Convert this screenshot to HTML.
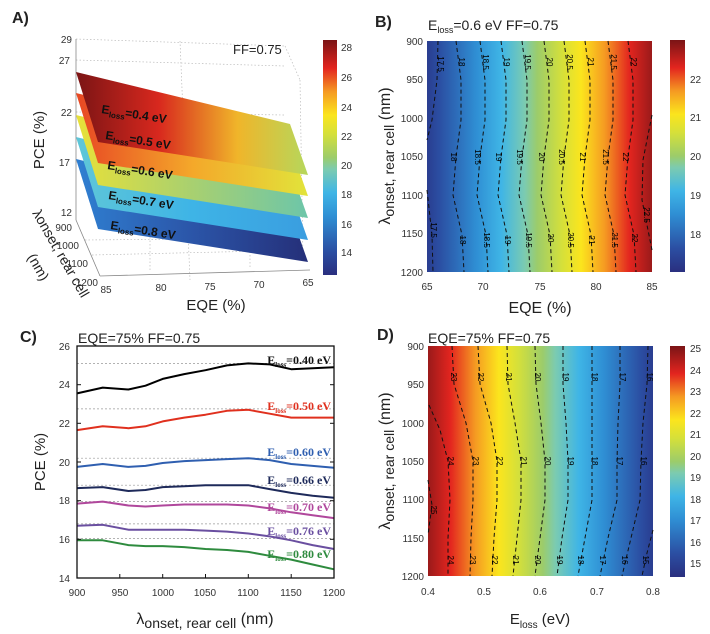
<!DOCTYPE html>
<html><head><meta charset="utf-8"><style>
html,body{margin:0;padding:0;background:#fff;}
svg{display:block;font-family:"Liberation Sans",sans-serif;}
.t{font-size:10px;fill:#333;}
.c{font-size:8px;fill:#000;}
.cl{fill:none;stroke:#111;stroke-width:1;stroke-dasharray:4,3;}
.sl{font-family:"Liberation Serif",serif;font-weight:bold;font-size:12px;}
</style></head><body>
<svg width="710" height="634" viewBox="0 0 710 634" xmlns="http://www.w3.org/2000/svg">
<defs>
<linearGradient id="jetV" x1="0" y1="0" x2="0" y2="1">
<stop offset="0" stop-color="#7a1416"/><stop offset="0.12" stop-color="#e3251f"/><stop offset="0.22" stop-color="#f59a22"/><stop offset="0.32" stop-color="#fbe51d"/><stop offset="0.4" stop-color="#d5e03a"/><stop offset="0.5" stop-color="#9ccc6a"/><stop offset="0.55" stop-color="#7ccbb0"/><stop offset="0.65" stop-color="#3fb5e6"/><stop offset="0.75" stop-color="#2f8fd4"/><stop offset="0.9" stop-color="#2b4ea2"/><stop offset="1" stop-color="#2a2f7f"/>
</linearGradient>
<linearGradient id="gD" x1="0" y1="0" x2="1" y2="0">
<stop offset="0" stop-color="#9a1a1a"/><stop offset="0.1" stop-color="#e3251f"/><stop offset="0.21" stop-color="#f59a22"/><stop offset="0.315" stop-color="#fbe51d"/><stop offset="0.4" stop-color="#d5e03a"/><stop offset="0.51" stop-color="#9ccc6a"/><stop offset="0.565" stop-color="#7ccbb0"/><stop offset="0.67" stop-color="#3fb5e6"/><stop offset="0.78" stop-color="#2f8fd4"/><stop offset="0.946" stop-color="#2b4ea2"/><stop offset="1" stop-color="#2a3d90"/>
</linearGradient>
<linearGradient id="gB" x1="1" y1="0" x2="0" y2="0">
<stop offset="0" stop-color="#9a1a1a"/><stop offset="0.1" stop-color="#e3251f"/><stop offset="0.21" stop-color="#f59a22"/><stop offset="0.315" stop-color="#fbe51d"/><stop offset="0.4" stop-color="#d5e03a"/><stop offset="0.51" stop-color="#9ccc6a"/><stop offset="0.565" stop-color="#7ccbb0"/><stop offset="0.67" stop-color="#3fb5e6"/><stop offset="0.78" stop-color="#2f8fd4"/><stop offset="0.946" stop-color="#2b4ea2"/><stop offset="1" stop-color="#2a3d90"/>
</linearGradient>
<linearGradient id="s4" gradientUnits="userSpaceOnUse" x1="80" y1="0" x2="305" y2="0"><stop offset="0" stop-color="#7f1515"/><stop offset="0.35" stop-color="#d8281e"/><stop offset="0.7" stop-color="#f0b52a"/><stop offset="1" stop-color="#b8d65a"/></linearGradient>
<linearGradient id="s5" gradientUnits="userSpaceOnUse" x1="80" y1="0" x2="305" y2="0"><stop offset="0" stop-color="#e84a24"/><stop offset="0.5" stop-color="#f4a82a"/><stop offset="1" stop-color="#e2e23a"/></linearGradient>
<linearGradient id="s6" gradientUnits="userSpaceOnUse" x1="80" y1="0" x2="305" y2="0"><stop offset="0" stop-color="#e6e03a"/><stop offset="0.5" stop-color="#a8d070"/><stop offset="1" stop-color="#6ec6a8"/></linearGradient>
<linearGradient id="s7" gradientUnits="userSpaceOnUse" x1="80" y1="0" x2="305" y2="0"><stop offset="0" stop-color="#5ec6d8"/><stop offset="0.5" stop-color="#3eb4e6"/><stop offset="1" stop-color="#3a9ee0"/></linearGradient>
<linearGradient id="s8" gradientUnits="userSpaceOnUse" x1="80" y1="0" x2="305" y2="0"><stop offset="0" stop-color="#2f7ed0"/><stop offset="0.5" stop-color="#2b55a8"/><stop offset="1" stop-color="#25307a"/></linearGradient>
</defs>

<!-- ================= PANEL A ================= -->
<text x="12" y="23" font-size="16" font-weight="bold" fill="#222">A)</text>
<g stroke="#bbb" stroke-width="0.7" stroke-dasharray="1.5,2" fill="none">
<line x1="76" y1="39" x2="285" y2="46"/><line x1="285" y1="46" x2="300" y2="80"/><line x1="300" y1="80" x2="303" y2="260"/>
<line x1="76" y1="60" x2="285" y2="66"/><line x1="76" y1="112" x2="285" y2="115"/><line x1="76" y1="162" x2="285" y2="165"/>
<line x1="180" y1="41" x2="190" y2="280"/><line x1="85" y1="240" x2="305" y2="238"/><line x1="92" y1="255" x2="305" y2="250"/>
<line x1="150" y1="270" x2="150" y2="230"/><line x1="250" y1="267" x2="250" y2="230"/>
</g>
<g stroke="#888" stroke-width="0.8" fill="none">
<line x1="76" y1="39" x2="76" y2="220"/><line x1="76" y1="220" x2="100" y2="276"/><line x1="100" y1="276" x2="310" y2="270"/>
</g>
<polygon points="76,159 98,229 308,262 290,211" fill="url(#s8)"/>
<polygon points="76,137 98,207 308,240 290,189" fill="url(#s7)"/>
<polygon points="76,115 98,185 308,218 290,167" fill="url(#s6)"/>
<polygon points="76,93 98,163 308,196 290,145" fill="url(#s5)"/>
<polygon points="76,72 98,142 308,175 290,124" fill="url(#s4)"/>
<g font-weight="bold" font-size="12" fill="#111">
<text transform="translate(101,113) rotate(9)">E<tspan font-size="8" dy="3">loss</tspan><tspan dy="-3">=0.4 eV</tspan></text>
<text transform="translate(105,139) rotate(9)">E<tspan font-size="8" dy="3">loss</tspan><tspan dy="-3">=0.5 eV</tspan></text>
<text transform="translate(107,169) rotate(9)">E<tspan font-size="8" dy="3">loss</tspan><tspan dy="-3">=0.6 eV</tspan></text>
<text transform="translate(108,199) rotate(9)">E<tspan font-size="8" dy="3">loss</tspan><tspan dy="-3">=0.7 eV</tspan></text>
<text transform="translate(110,229) rotate(9)">E<tspan font-size="8" dy="3">loss</tspan><tspan dy="-3">=0.8 eV</tspan></text>
</g>
<text x="233" y="54" font-size="13" fill="#222">FF=0.75</text>
<g class="t" text-anchor="end">
<text x="72" y="43">29</text><text x="70" y="64">27</text><text x="72" y="116">22</text><text x="70" y="166">17</text><text x="72" y="216">12</text>
<text x="72" y="231">900</text><text x="79" y="249">1000</text><text x="88" y="267">1100</text><text x="98" y="286">1200</text>
</g>
<g class="t" text-anchor="middle">
<text x="106" y="293">85</text><text x="161" y="291">80</text><text x="210" y="290">75</text><text x="259" y="288">70</text><text x="308" y="286">65</text>
</g>
<text x="216" y="310" font-size="15" fill="#222" text-anchor="middle">EQE (%)</text>
<text transform="translate(44,140) rotate(-90)" font-size="15" fill="#222" text-anchor="middle">PCE (%)</text>
<text transform="translate(32,213) rotate(60)" font-size="14" fill="#222">λonset, rear cell</text>
<text transform="translate(27,257) rotate(60)" font-size="14" fill="#222">(nm)</text>
<rect x="323" y="40" width="14" height="235" fill="url(#jetV)"/>
<g class="t"><text x="341" y="51">28</text><text x="341" y="81">26</text><text x="341" y="111">24</text><text x="341" y="140">22</text><text x="341" y="169">20</text><text x="341" y="198">18</text><text x="341" y="228">16</text><text x="341" y="256">14</text></g>

<!-- ================= PANEL B ================= -->
<text x="375" y="27" font-size="16" font-weight="bold" fill="#222">B)</text>
<text x="428" y="30" font-size="14" fill="#222">E<tspan font-size="9" dy="3">loss</tspan><tspan dy="-3">=0.6 eV FF=0.75</tspan></text>
<rect x="427" y="41" width="225" height="231" fill="url(#gB)"/>
<g class="cl">
<polyline points="438,41 437,80 432,120 427,140"/><polyline points="427,190 432,235 433,272"/>
<polyline points="456,41 461,80 461,120 456,157 453,195 462,235 464,272"/>
<polyline points="480,41 485,80 485,120 480,157 477,195 486,235 488,272"/>
<polyline points="501,41 506,80 506,120 501,157 498,195 507,235 509,272"/>
<polyline points="522,41 527,80 527,120 522,157 519,195 528,235 530,272"/>
<polyline points="544,41 549,80 549,120 544,157 541,195 550,235 552,272"/>
<polyline points="564,41 569,80 569,120 564,157 561,195 570,235 572,272"/>
<polyline points="585,41 590,80 590,120 585,157 582,195 591,235 593,272"/>
<polyline points="608,41 613,80 613,120 608,157 605,195 614,235 616,272"/>
<polyline points="628,41 633,80 633,120 628,157 625,195 634,235 636,272"/>
<polyline points="652,115 643,160 642,200 650,240 652,250"/>
</g>
<g class="c" text-anchor="middle">
<text transform="translate(438,64) rotate(90)">17.5</text><text transform="translate(459,62) rotate(90)">18</text><text transform="translate(483,62) rotate(90)">18.5</text><text transform="translate(504,62) rotate(90)">19</text><text transform="translate(525,62) rotate(90)">19.5</text><text transform="translate(547,62) rotate(90)">20</text><text transform="translate(567,62) rotate(90)">20.5</text><text transform="translate(588,62) rotate(90)">21</text><text transform="translate(611,62) rotate(90)">21.5</text><text transform="translate(631,62) rotate(90)">22</text>
<text transform="translate(451,157) rotate(90)">18</text><text transform="translate(475,157) rotate(90)">18.5</text><text transform="translate(496,157) rotate(90)">19</text><text transform="translate(517,157) rotate(90)">19.5</text><text transform="translate(539,157) rotate(90)">20</text><text transform="translate(559,157) rotate(90)">20.5</text><text transform="translate(580,157) rotate(90)">21</text><text transform="translate(603,157) rotate(90)">21.5</text><text transform="translate(623,157) rotate(90)">22</text>
<text transform="translate(431,230) rotate(90)">17.5</text><text transform="translate(460,240) rotate(90)">18</text><text transform="translate(484,240) rotate(90)">18.5</text><text transform="translate(505,240) rotate(90)">19</text><text transform="translate(526,240) rotate(90)">19.5</text><text transform="translate(548,238) rotate(90)">20</text><text transform="translate(568,240) rotate(90)">20.5</text><text transform="translate(589,240) rotate(90)">21</text><text transform="translate(612,240) rotate(90)">21.5</text><text transform="translate(632,238) rotate(90)">22</text><text transform="translate(644,215) rotate(90)">22.5</text>
</g>
<g class="t" text-anchor="end">
<text x="423" y="45">900</text><text x="423" y="83">950</text><text x="423" y="122">1000</text><text x="423" y="160">1050</text><text x="423" y="199">1100</text><text x="423" y="237">1150</text><text x="423" y="276">1200</text>
</g>
<g class="t" text-anchor="middle">
<text x="427" y="290">65</text><text x="483" y="290">70</text><text x="540" y="290">75</text><text x="596" y="290">80</text><text x="652" y="290">85</text>
</g>
<text x="540" y="313" font-size="16" fill="#222" text-anchor="middle">EQE (%)</text>
<text transform="translate(390,156) rotate(-90)" font-size="16" fill="#222" text-anchor="middle">λ<tspan font-size="14" dy="4">onset, rear cell</tspan><tspan dy="-4"> (nm)</tspan></text>
<rect x="670" y="40" width="15" height="232" fill="url(#jetV)"/>
<g class="t"><text x="690" y="83">22</text><text x="690" y="121">21</text><text x="690" y="160">20</text><text x="690" y="199">19</text><text x="690" y="238">18</text></g>

<!-- ================= PANEL C ================= -->
<text x="20" y="342" font-size="16" font-weight="bold" fill="#222">C)</text>
<text x="78" y="343" font-size="14" fill="#222">EQE=75% FF=0.75</text>
<g stroke="#999" stroke-width="0.7" stroke-dasharray="2,2">
<line x1="77" y1="363.4" x2="334" y2="363.4"/><line x1="77" y1="408.9" x2="334" y2="408.9"/><line x1="77" y1="458.2" x2="334" y2="458.2"/><line x1="77" y1="485.2" x2="334" y2="485.2"/><line x1="77" y1="501.6" x2="334" y2="501.6"/><line x1="77" y1="523.9" x2="334" y2="523.9"/><line x1="77" y1="538.4" x2="334" y2="538.4"/>
</g>
<g fill="none" stroke-width="2" stroke-linejoin="round">
<polyline stroke="#000" points="77,393.4 102.7,387.6 128.4,389.5 145.5,385.7 162.7,378.9 184.2,374.1 205.5,370.2 227,365.4 248.3,363.4 269.7,364.4 291.2,369.2 312.6,368.3 334,367.3"/>
<polyline stroke="#e0301e" points="77,430.1 102.7,426.3 128.4,428.2 145.5,426.3 162.7,421.4 184.2,417.6 205.5,414.7 227,410.8 248.3,409.8 269.7,413.7 291.2,417.6 312.6,417.6 334,417.6"/>
<polyline stroke="#2f5fb0" points="77,466.9 102.7,464 128.4,466.9 145.5,465.9 162.7,463 184.2,461.1 205.5,460.1 227,459.1 248.3,458.2 269.7,460.1 291.2,464 312.6,465.9 334,467.8"/>
<polyline stroke="#1e2a5a" points="77,488.1 102.7,487.1 128.4,491 145.5,490 162.7,487.1 184.2,486.2 205.5,485.2 227,485.2 248.3,485.2 269.7,489.1 291.2,492.9 312.6,495.8 334,497.8"/>
<polyline stroke="#b0489c" points="77,503.6 102.7,501.6 128.4,505.5 145.5,506.5 162.7,505.5 184.2,504.5 205.5,504.5 227,504.5 248.3,505.5 269.7,508.4 291.2,512.3 312.6,515.2 334,518.1"/>
<polyline stroke="#6a4fa0" points="77,525.8 102.7,524.8 128.4,529.7 145.5,529.7 162.7,529.7 184.2,529.7 205.5,530.6 227,531.6 248.3,533.5 269.7,536.4 291.2,540.3 312.6,545.1 334,549"/>
<polyline stroke="#2e8b3e" points="77,540.3 102.7,540.3 128.4,545.1 145.5,546.1 162.7,546.1 184.2,547.1 205.5,549 227,550 248.3,551.9 269.7,555.8 291.2,559.6 312.6,564.5 334,569.3"/>
</g>
<g class="sl" text-anchor="end">
<text x="331" y="364" fill="#111">E<tspan font-size="7" dy="3">loss</tspan><tspan dy="-3">=0.40 eV</tspan></text>
<text x="331" y="410" fill="#e0301e">E<tspan font-size="7" dy="3">loss</tspan><tspan dy="-3">=0.50 eV</tspan></text>
<text x="331" y="456" fill="#2f5fb0">E<tspan font-size="7" dy="3">loss</tspan><tspan dy="-3">=0.60 eV</tspan></text>
<text x="331" y="484" fill="#1e2a5a">E<tspan font-size="7" dy="3">loss</tspan><tspan dy="-3">=0.66 eV</tspan></text>
<text x="331" y="511" fill="#b0489c">E<tspan font-size="7" dy="3">loss</tspan><tspan dy="-3">=0.70 eV</tspan></text>
<text x="331" y="535" fill="#6a4fa0">E<tspan font-size="7" dy="3">loss</tspan><tspan dy="-3">=0.76 eV</tspan></text>
<text x="331" y="558" fill="#2e8b3e">E<tspan font-size="7" dy="3">loss</tspan><tspan dy="-3">=0.80 eV</tspan></text>
</g>
<rect x="77" y="346" width="257" height="232" fill="none" stroke="#111" stroke-width="1.3"/>
<g stroke="#111" stroke-width="1">
<line x1="77" y1="539.3" x2="81" y2="539.3"/><line x1="77" y1="500.7" x2="81" y2="500.7"/><line x1="77" y1="462" x2="81" y2="462"/><line x1="77" y1="423.3" x2="81" y2="423.3"/><line x1="77" y1="384.7" x2="81" y2="384.7"/>
<line x1="334" y1="539.3" x2="330" y2="539.3"/><line x1="334" y1="500.7" x2="330" y2="500.7"/><line x1="334" y1="462" x2="330" y2="462"/><line x1="334" y1="423.3" x2="330" y2="423.3"/><line x1="334" y1="384.7" x2="330" y2="384.7"/>
<line x1="119.8" y1="578" x2="119.8" y2="574"/><line x1="162.7" y1="578" x2="162.7" y2="574"/><line x1="205.5" y1="578" x2="205.5" y2="574"/><line x1="248.3" y1="578" x2="248.3" y2="574"/><line x1="291.2" y1="578" x2="291.2" y2="574"/>
</g>
<g class="t" text-anchor="end">
<text x="70" y="582">14</text><text x="70" y="543">16</text><text x="70" y="504">18</text><text x="70" y="466">20</text><text x="70" y="427">22</text><text x="70" y="388">24</text><text x="70" y="350">26</text>
</g>
<g class="t" text-anchor="middle">
<text x="77" y="596">900</text><text x="120" y="596">950</text><text x="163" y="596">1000</text><text x="205" y="596">1050</text><text x="248" y="596">1100</text><text x="291" y="596">1150</text><text x="334" y="596">1200</text>
</g>
<text x="205" y="624" font-size="16" fill="#222" text-anchor="middle">λ<tspan font-size="14" dy="4">onset, rear cell</tspan><tspan dy="-4"> (nm)</tspan></text>
<text transform="translate(45,462) rotate(-90)" font-size="15" fill="#222" text-anchor="middle">PCE (%)</text>

<!-- ================= PANEL D ================= -->
<text x="377" y="340" font-size="16" font-weight="bold" fill="#222">D)</text>
<text x="428" y="343" font-size="14" fill="#222">EQE=75% FF=0.75</text>
<rect x="428" y="346" width="225" height="230" fill="url(#gD)"/>
<g class="cl">
<polyline points="429,405 440,430 448,461 450,500 448,538 448,576"/>
<polyline points="452,346 454,384 466,423 473,461 473,500 471,538 470,576"/>
<polyline points="478,346 480,384 491,423 497,461 497,500 494,538 492,576"/>
<polyline points="507,346 508,384 515,423 521,461 521,500 517,538 513,576"/>
<polyline points="535,346 536,384 541,423 545,461 545,500 540,538 535,576"/>
<polyline points="563,346 563,384 566,423 568,461 568,500 562,538 557,576"/>
<polyline points="592,346 592,384 592,423 592,461 592,500 585,538 578,576"/>
<polyline points="620,346 620,384 618,423 617,461 617,500 608,538 600,576"/>
<polyline points="648,346 647,384 643,423 641,461 640,500 631,538 622,576"/>
<polyline points="653,530 647,553 642,576"/>
<polyline points="428,480 432,505 428,535"/>
</g>
<g class="c" text-anchor="middle">
<text transform="translate(451,377) rotate(90)">23</text><text transform="translate(478,377) rotate(90)">22</text><text transform="translate(506,377) rotate(90)">21</text><text transform="translate(535,377) rotate(90)">20</text><text transform="translate(563,377) rotate(90)">19</text><text transform="translate(592,377) rotate(90)">18</text><text transform="translate(620,377) rotate(90)">17</text><text transform="translate(647,377) rotate(90)">16</text>
<text transform="translate(448,461) rotate(90)">24</text><text transform="translate(473,461) rotate(90)">23</text><text transform="translate(497,461) rotate(90)">22</text><text transform="translate(521,461) rotate(90)">21</text><text transform="translate(545,461) rotate(90)">20</text><text transform="translate(568,461) rotate(90)">19</text><text transform="translate(592,461) rotate(90)">18</text><text transform="translate(617,461) rotate(90)">17</text><text transform="translate(641,461) rotate(90)">16</text><text transform="translate(431,510) rotate(90)">25</text>
<text transform="translate(448,560) rotate(90)">24</text><text transform="translate(470,560) rotate(90)">23</text><text transform="translate(492,560) rotate(90)">22</text><text transform="translate(513,560) rotate(90)">21</text><text transform="translate(535,560) rotate(90)">20</text><text transform="translate(557,560) rotate(90)">19</text><text transform="translate(578,560) rotate(90)">18</text><text transform="translate(600,560) rotate(90)">17</text><text transform="translate(622,560) rotate(90)">16</text><text transform="translate(643,560) rotate(90)">15</text>
</g>
<g class="t" text-anchor="end">
<text x="424" y="350">900</text><text x="424" y="388">950</text><text x="424" y="427">1000</text><text x="424" y="465">1050</text><text x="424" y="503">1100</text><text x="424" y="542">1150</text><text x="424" y="580">1200</text>
</g>
<g class="t" text-anchor="middle">
<text x="428" y="595">0.4</text><text x="484" y="595">0.5</text><text x="540" y="595">0.6</text><text x="597" y="595">0.7</text><text x="653" y="595">0.8</text>
</g>
<text x="540" y="624" font-size="15" fill="#222" text-anchor="middle">E<tspan font-size="10" dy="4">loss</tspan><tspan dy="-4"> (eV)</tspan></text>
<text transform="translate(390,461) rotate(-90)" font-size="16" fill="#222" text-anchor="middle">λ<tspan font-size="14" dy="4">onset, rear cell</tspan><tspan dy="-4"> (nm)</tspan></text>
<rect x="670" y="346" width="15" height="231" fill="url(#jetV)"/>
<g class="t"><text x="690" y="352">25</text><text x="690" y="374">24</text><text x="690" y="395">23</text><text x="690" y="417">22</text><text x="690" y="438">21</text><text x="690" y="460">20</text><text x="690" y="481">19</text><text x="690" y="503">18</text><text x="690" y="524">17</text><text x="690" y="546">16</text><text x="690" y="567">15</text></g>
</svg>
</body></html>
